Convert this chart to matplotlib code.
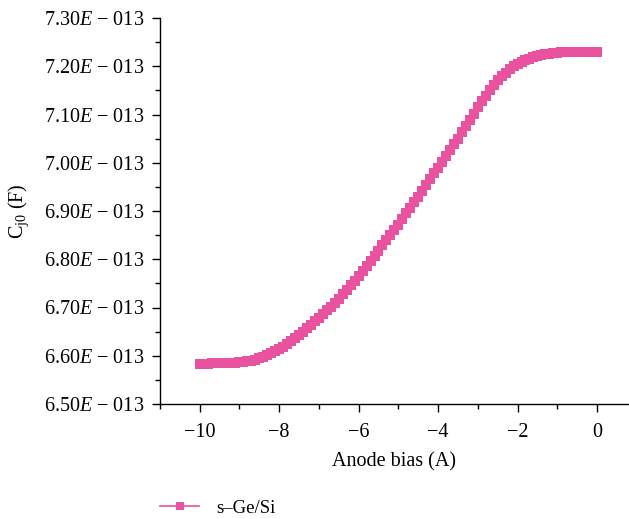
import matplotlib
matplotlib.use("Agg")
import matplotlib.pyplot as plt
from matplotlib.ticker import MultipleLocator, FuncFormatter
import numpy as np

plt.rcParams['font.family'] = ['Liberation Serif', 'DejaVu Serif']
plt.rcParams['mathtext.fontset'] = 'custom'
plt.rcParams['mathtext.rm'] = 'Liberation Serif'
plt.rcParams['mathtext.it'] = 'Liberation Serif:italic'

# anode bias sweep (A), step 0.1
bias = np.round(np.linspace(-10, 0, 101), 1)

# junction capacitance, units of 1e-13 F
cj0 = [6.583, 6.583, 6.583, 6.584, 6.584, 6.584, 6.585, 6.585, 6.586, 6.586,
       6.587, 6.588, 6.589, 6.590, 6.592, 6.595, 6.598, 6.601, 6.605, 6.609,
       6.613, 6.619, 6.625, 6.631, 6.637, 6.643, 6.650, 6.657, 6.664, 6.671,
       6.678, 6.686, 6.694, 6.702, 6.709, 6.717, 6.727, 6.736, 6.746, 6.755,
       6.765, 6.776, 6.786, 6.797, 6.807, 6.818, 6.829, 6.840, 6.850, 6.861,
       6.872, 6.884, 6.895, 6.907, 6.918, 6.930, 6.942, 6.954, 6.966, 6.978,
       6.990, 7.002, 7.014, 7.026, 7.038, 7.050, 7.063, 7.076, 7.089, 7.102,
       7.115, 7.127, 7.139, 7.150, 7.161, 7.171, 7.179, 7.187, 7.194, 7.200,
       7.205, 7.209, 7.213, 7.216, 7.219, 7.221, 7.223, 7.225, 7.226, 7.227,
       7.228, 7.229, 7.229, 7.230, 7.230, 7.230, 7.230, 7.230, 7.230, 7.230,
       7.230]

series_label = "s\u2013Ge/Si"
color = "#e8529f"

fig = plt.figure(figsize=(6.29, 5.19), dpi=100)
ax = fig.add_axes([160 / 629, 1 - 404 / 519, 1 - 160 / 629, (404 - 18) / 519])

ax.plot(bias, cj0, color=color, lw=1.5, marker='s', markersize=6.8,
        markeredgewidth=0, label=series_label)

ax.set_xlim(-11, 0.806)
ax.set_ylim(6.50, 7.30)
ax.spines['top'].set_visible(False)
ax.spines['right'].set_visible(False)
for s in ['left', 'bottom']:
    ax.spines[s].set_linewidth(1.0)

ax.xaxis.set_major_locator(MultipleLocator(2))
ax.xaxis.set_minor_locator(MultipleLocator(1))
ax.yaxis.set_major_locator(MultipleLocator(0.1))
ax.yaxis.set_minor_locator(MultipleLocator(0.05))
ax.tick_params(which='major', direction='out', length=6, width=1, labelsize=14.5)
ax.tick_params(axis='x', which='major', pad=8)
ax.tick_params(axis='y', which='major', pad=5)
ax.tick_params(which='minor', direction='out', length=3.5, width=1)

ax.xaxis.set_major_formatter(FuncFormatter(
    lambda v, p: ("\u2212%d" % abs(round(v))) if v < 0 else "%d" % round(v)))
ax.yaxis.set_major_formatter(FuncFormatter(
    lambda v, p: "%.2f$E$ \u2212 013" % v))

ax.set_xlabel("Anode bias (A)", fontsize=14.5, labelpad=7)
ax.set_ylabel("C$_{\\mathrm{j0}}$ (F)", fontsize=14.5, labelpad=10)

leg_line = plt.Line2D([], [], color=color, lw=1.2, marker='s', markersize=5.5,
                      markeredgewidth=0)
fig.legend([leg_line], [series_label], loc='lower left',
           bbox_to_anchor=(143 / 629, -0.028), frameon=False, fontsize=13.5,
           handlelength=2.1, handletextpad=0.9)

fig.savefig("out.png", dpi=100)
